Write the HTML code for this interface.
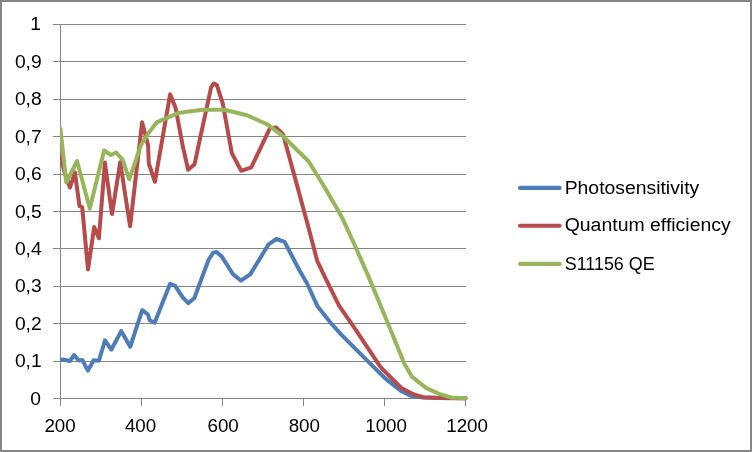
<!DOCTYPE html>
<html><head><meta charset="utf-8"><title>Chart</title>
<style>
html,body{margin:0;padding:0;background:#fff;}
body{width:752px;height:452px;overflow:hidden;}
svg{display:block;font-family:"Liberation Sans",sans-serif;}
.g{stroke:#868686;stroke-width:1;fill:none;shape-rendering:crispEdges;}
.s{fill:none;stroke-width:4;stroke-linejoin:round;stroke-linecap:round;}
text{fill:#000;font-size:18px;}
</style></head><body>
<svg width="752" height="452" viewBox="0 0 752 452">
<rect x="0" y="0" width="752" height="452" fill="#fff"/>
<path d="M0 0H752V452H0Z M2 2V450H750V2Z" fill="#868686" fill-rule="evenodd"/>

<line class="g" x1="53" y1="24.5" x2="466" y2="24.5"/>
<line class="g" x1="53" y1="61.5" x2="466" y2="61.5"/>
<line class="g" x1="53" y1="99.5" x2="466" y2="99.5"/>
<line class="g" x1="53" y1="136.5" x2="466" y2="136.5"/>
<line class="g" x1="53" y1="174.5" x2="466" y2="174.5"/>
<line class="g" x1="53" y1="211.5" x2="466" y2="211.5"/>
<line class="g" x1="53" y1="248.5" x2="466" y2="248.5"/>
<line class="g" x1="53" y1="286.5" x2="466" y2="286.5"/>
<line class="g" x1="53" y1="323.5" x2="466" y2="323.5"/>
<line class="g" x1="53" y1="361.5" x2="466" y2="361.5"/>
<line class="g" x1="53" y1="398.5" x2="466" y2="398.5"/>
<line class="g" x1="60.5" y1="24" x2="60.5" y2="399"/>
<line class="g" x1="60.5" y1="398" x2="60.5" y2="406"/>
<line class="g" x1="141.5" y1="398" x2="141.5" y2="406"/>
<line class="g" x1="222.5" y1="398" x2="222.5" y2="406"/>
<line class="g" x1="303.5" y1="398" x2="303.5" y2="406"/>
<line class="g" x1="384.5" y1="398" x2="384.5" y2="406"/>
<line class="g" x1="465.5" y1="398" x2="465.5" y2="406"/>
<defs><clipPath id="cp"><rect x="60" y="0" width="692" height="452"/></clipPath></defs>
<g clip-path="url(#cp)">
<polyline class="s" stroke="#4d7cb6" points="60.5,359.6 64.3,359.8 70.0,361.0 74.1,355.0 78.9,360.6 82.3,360.0 87.9,370.6 93.6,360.2 98.9,360.8 105.0,340.4 111.3,349.7 121.2,331.1 130.2,346.8 142.2,310.2 148.0,314.5 149.7,320.2 154.6,322.7 170.1,283.8 175.2,285.9 182.5,297.2 188.2,303.2 194.4,298.0 208.5,260.0 213.2,252.6 216.5,252.0 221.8,256.6 233.0,274.3 241.0,280.6 250.4,274.1 268.6,244.3 276.3,239.0 284.5,241.8 299.3,270.0 307.1,283.5 317.3,305.9 330.0,322.0 341.3,334.6 370.0,363.3 384.6,377.9 400.6,390.6 411.2,395.9 423.0,397.5 439.0,398.0 465.5,398.3"/>
<polyline class="s" stroke="#b54c4b" points="60.4,156.0 64.3,171.5 70.0,187.5 74.9,172.5 79.5,206.1 82.2,207.2 88.0,269.5 94.2,227.0 98.9,238.3 104.9,162.6 112.0,214.1 120.2,162.3 130.1,226.3 142.1,122.2 148.1,145.4 148.8,163.5 154.9,181.8 170.1,94.3 175.5,107.5 182.5,144.7 188.1,169.8 194.6,164.2 199.4,141.5 211.1,87.4 213.8,83.5 216.9,85.1 222.8,103.6 231.8,153.1 241.2,170.8 251.3,167.3 269.9,128.3 276.1,127.4 283.1,134.5 295.5,179.6 307.8,225.0 317.2,260.8 326.0,279.4 339.2,305.9 355.8,329.8 379.2,365.2 383.3,370.0 401.3,387.9 413.9,394.5 423.2,397.2 439.0,397.9 465.5,398.3"/>
<polyline class="s" stroke="#97b55a" points="60.4,128.6 66.3,182.5 77.0,161.0 89.8,208.6 104.1,150.5 110.9,155.0 116.1,152.5 122.5,159.7 129.3,179.3 141.0,145.0 148.1,133.6 156.8,122.3 177.9,113.1 202.6,109.8 224.3,109.8 246.9,115.2 268.1,124.8 283.1,136.3 308.5,161.3 323.1,184.8 338.6,211.3 343.3,220.2 356.2,248.5 369.9,279.9 389.0,325.9 404.5,363.9 411.9,376.6 425.9,387.9 439.1,393.9 451.1,397.5 465.5,398.3"/>
</g>
<text x="30.3" y="30.0" textLength="10.7" lengthAdjust="spacingAndGlyphs">1</text>
<text x="14.9" y="67.5" textLength="26.8" lengthAdjust="spacingAndGlyphs">0,9</text>
<text x="14.9" y="105.0" textLength="26.8" lengthAdjust="spacingAndGlyphs">0,8</text>
<text x="14.9" y="142.5" textLength="26.8" lengthAdjust="spacingAndGlyphs">0,7</text>
<text x="14.9" y="180.0" textLength="26.8" lengthAdjust="spacingAndGlyphs">0,6</text>
<text x="14.9" y="217.5" textLength="26.8" lengthAdjust="spacingAndGlyphs">0,5</text>
<text x="14.9" y="254.9" textLength="26.8" lengthAdjust="spacingAndGlyphs">0,4</text>
<text x="14.9" y="292.4" textLength="26.8" lengthAdjust="spacingAndGlyphs">0,3</text>
<text x="14.9" y="329.9" textLength="26.8" lengthAdjust="spacingAndGlyphs">0,2</text>
<text x="14.9" y="367.4" textLength="26.8" lengthAdjust="spacingAndGlyphs">0,1</text>
<text x="30.3" y="404.9" textLength="10.7" lengthAdjust="spacingAndGlyphs">0</text>
<text x="44.4" y="431.6" textLength="31.3" lengthAdjust="spacingAndGlyphs">200</text>
<text x="124.9" y="431.6" textLength="31.3" lengthAdjust="spacingAndGlyphs">400</text>
<text x="207.5" y="431.6" textLength="31.3" lengthAdjust="spacingAndGlyphs">600</text>
<text x="288.7" y="431.6" textLength="31.3" lengthAdjust="spacingAndGlyphs">800</text>
<text x="365.2" y="431.6" textLength="41.8" lengthAdjust="spacingAndGlyphs">1000</text>
<text x="446.2" y="431.6" textLength="41.8" lengthAdjust="spacingAndGlyphs">1200</text>
<line class="s" stroke="#4d7cb6" x1="520" y1="187.9" x2="559.6" y2="187.9" style="stroke-width:4.1"/>
<text x="564.7" y="193.6" textLength="134.5" lengthAdjust="spacingAndGlyphs">Photosensitivity</text>
<line class="s" stroke="#b54c4b" x1="520" y1="225.7" x2="559.6" y2="225.7" style="stroke-width:4.1"/>
<text x="564.7" y="231.4" textLength="166" lengthAdjust="spacingAndGlyphs">Quantum efficiency</text>
<line class="s" stroke="#97b55a" x1="520" y1="263.9" x2="559.6" y2="263.9" style="stroke-width:4.1"/>
<text x="564.7" y="269.6" textLength="90" lengthAdjust="spacingAndGlyphs">S11156 QE</text>
</svg></body></html>
